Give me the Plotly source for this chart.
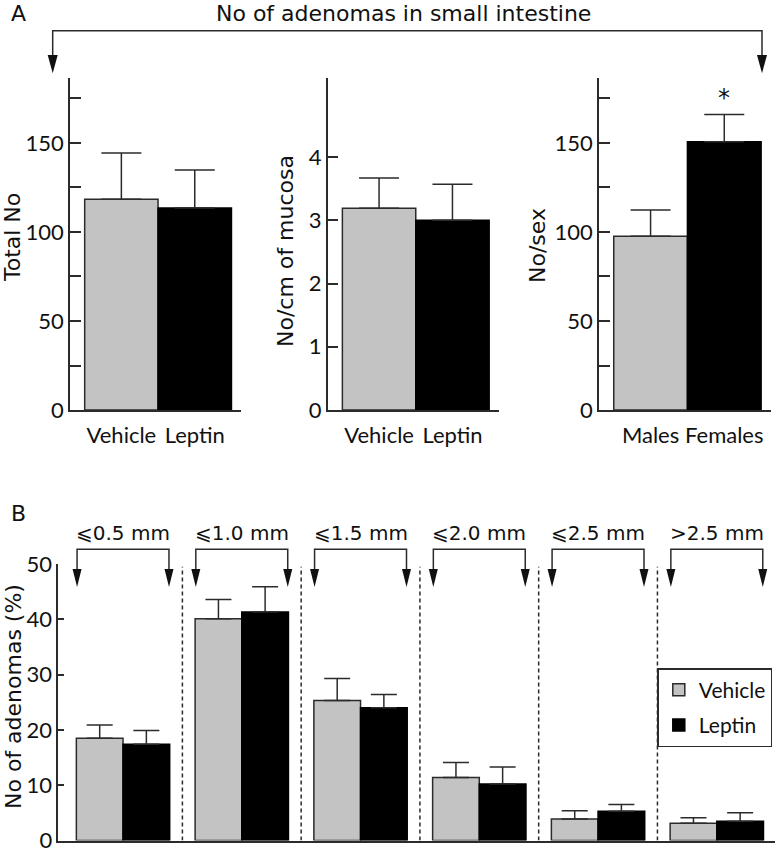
import plotly.graph_objects as go

W, H = 775, 853
FONT = "Lato"
TFONT = "DejaVu Sans"
INK = "#2b2b2b"
GRAY = "#c3c3c3"
BLACK = "#000000"

# ---------------- data ----------------
a_groups = ["Vehicle", "Leptin"]
total_no = [118.4, 113.5]
total_no_sem = [26.0, 21.3]
per_cm = [3.19, 3.00]
per_cm_sem = [0.48, 0.57]

sex_groups = ["Males", "Females"]
per_sex = [97.6, 150.7]
per_sex_sem = [14.8, 15.3]

size_labels = ["⩽0.5 mm", "⩽1.0 mm", "⩽1.5 mm", "⩽2.0 mm", "⩽2.5 mm", ">2.5 mm"]
vehicle_pct = [18.5, 40.1, 25.3, 11.4, 3.9, 3.1]
vehicle_sem = [2.4, 3.5, 4.0, 2.7, 1.5, 1.0]
leptin_pct = [17.4, 41.3, 24.0, 10.2, 5.3, 3.5]
leptin_sem = [2.5, 4.6, 2.4, 3.1, 1.2, 1.5]


def px_x(p):
    return p / W


def px_y(p):
    return 1 - p / H


fig = go.Figure()


def a_bar(y, sem, xa, ya):
    return go.Bar(
        x=[0, 1], y=y, width=1,
        marker=dict(color=[GRAY, BLACK], line=dict(color=[INK, BLACK], width=1.5)),
        error_y=dict(type="data", array=sem, arrayminus=[0] * len(sem), symmetric=False,
                     color=INK, thickness=1.5, width=20),
        xaxis=xa, yaxis=ya, showlegend=False, hoverinfo="skip",
    )


fig.add_trace(a_bar(total_no, total_no_sem, "x", "y"))
fig.add_trace(a_bar(per_cm, per_cm_sem, "x2", "y2"))
fig.add_trace(a_bar(per_sex, per_sex_sem, "x3", "y3"))

xb = list(range(len(size_labels)))
fig.add_trace(go.Bar(
    x=xb, y=vehicle_pct, name="Vehicle", legendgroup="v",
    marker=dict(color=GRAY, line=dict(color=INK, width=1.5)),
    error_y=dict(type="data", array=vehicle_sem, arrayminus=[0] * 6, symmetric=False,
                 color=INK, thickness=1.5, width=13),
    xaxis="x4", yaxis="y4",
))
fig.add_trace(go.Bar(
    x=xb, y=leptin_pct, name="Leptin", legendgroup="l",
    marker=dict(color=BLACK, line=dict(color=BLACK, width=1.5)),
    error_y=dict(type="data", array=leptin_sem, arrayminus=[0] * 6, symmetric=False,
                 color=INK, thickness=1.5, width=13),
    xaxis="x4", yaxis="y4",
))

axis_common = dict(showline=True, linecolor=INK, linewidth=1.5, showgrid=False,
                   zeroline=False, fixedrange=True, ticklabeloverflow="allow",
                   tickfont=dict(family=FONT, size=22, color="#111"))

A_TOP, A_BOT = 78, 410
a_xrange = [-0.7, 1.63]
count_ticks = list(range(0, 176, 25))
count_text = [str(v) if v % 50 == 0 else "" for v in count_ticks]

layout_axes = {}
for i, (x0, x1, labels, yr, tv, tt) in enumerate([
    (70, 241, a_groups, 186.5, count_ticks, count_text),
    (327.7, 498.7, a_groups, 5.25, [0, 1, 2, 3, 4], ["0", "1", "2", "3", "4"]),
    (599, 770.7, sex_groups, 186.5, count_ticks, count_text),
], start=1):
    sfx = "" if i == 1 else str(i)
    layout_axes["xaxis" + sfx] = dict(
        axis_common, domain=[px_x(x0), px_x(x1)], range=a_xrange, anchor="y" + sfx,
        tickvals=[0, 1], ticktext=labels, ticks="", ticklabelstandoff=5)
    layout_axes["yaxis" + sfx] = dict(
        axis_common, domain=[px_y(A_BOT), px_y(A_TOP)], range=[0, yr], anchor="x" + sfx,
        tickvals=tv, ticktext=tt, ticks="inside", ticklen=11, tickwidth=1.5, tickcolor=INK)

B_X0, B_TOP, B_BOT = 58.3, 564, 840.5
b_range = [-0.545, 5.49]
layout_axes["xaxis4"] = dict(axis_common, domain=[px_x(B_X0), 1], range=b_range, anchor="y4",
                             showticklabels=False, ticks="")
layout_axes["yaxis4"] = dict(axis_common, domain=[px_y(B_BOT), px_y(B_TOP)], range=[0, 50],
                             anchor="x4", tickvals=list(range(0, 51, 10)), ticks="inside",
                             ticklen=6, tickwidth=1.5, tickcolor=INK)

shapes = []
line_style = dict(color=INK, width=1.5)


def arrow_path(x, half, y_base, y_tip):
    return f"M {x - half},{y_base} L {x + half},{y_base} L {x},{y_tip} Z"


# Top bracket of panel A
xl, xr = px_x(52.7), px_x(762)
yl, yb, yt = px_y(30.7), px_y(55), px_y(73.3)
shapes.append(dict(type="path", xref="paper", yref="paper",
                   path=f"M {xl},{yb} L {xl},{yl} L {xr},{yl} L {xr},{yb}", line=line_style))
for xx in (xl, xr):
    shapes.append(dict(type="path", xref="paper", yref="paper",
                       path=arrow_path(xx, 5 / W, yb, yt), fillcolor="#111", line=dict(width=0)))

# Panel B brackets and dashed separators
b_unit = (W - B_X0) / (b_range[1] - b_range[0])
yl, yb, yt = px_y(549.3), px_y(569), px_y(587)
for i in xb:
    l, r = i - 0.387, i + 0.387
    shapes.append(dict(type="path", xref="x4", yref="paper",
                       path=f"M {l},{yb} L {l},{yl} L {r},{yl} L {r},{yb}", line=line_style))
    for xx in (l, r):
        shapes.append(dict(type="path", xref="x4", yref="paper",
                           path=arrow_path(xx, 4.5 / b_unit, yb, yt), fillcolor="#111",
                           line=dict(width=0)))
for i in xb[:-1]:
    shapes.append(dict(type="line", xref="x4", yref="y4", x0=i + 0.5, x1=i + 0.5, y0=0, y1=49.5,
                       line=dict(color=INK, width=1.5, dash="4px,3px")))

ann_font = dict(family=TFONT, size=22, color="#111")


def paper_text(text, x, y, angle=0, **kw):
    return dict(text=text, x=px_x(x), y=px_y(y), xref="paper", yref="paper",
                xanchor="center", yanchor="middle", textangle=angle, showarrow=False,
                font=ann_font, **kw)


annotations = [
    paper_text("A", 18, 14),
    paper_text("No of adenomas in small intestine", 403, 13),
    paper_text("B", 18, 513),
    paper_text("Total No", 13, 238, -90),
    paper_text("No/cm of mucosa", 285, 251, -90),
    paper_text("No/sex", 538, 246, -90),
    paper_text("No of adenomas (%)", 13, 697, -90),
    dict(text="*", x=1, y=per_sex[1] + per_sex_sem[1], xref="x3", yref="y3",
         xanchor="center", yanchor="bottom", showarrow=False,
         font=dict(family=TFONT, size=24, color="#111")),
]
for i, lab in enumerate(size_labels):
    annotations.append(dict(text=lab, x=i, y=px_y(533), xref="x4", yref="paper",
                            xanchor="center", yanchor="middle", showarrow=False,
                            font=dict(family=TFONT, size=20, color="#111")))

fig.update_layout(
    width=W, height=H, margin=dict(l=0, r=0, t=0, b=0, autoexpand=False),
    paper_bgcolor="white", plot_bgcolor="white",
    font=dict(family=FONT, size=22, color="#111"),
    barmode="group", bargap=0.214, bargroupgap=0,
    showlegend=True,
    legend=dict(x=px_x(772.3), y=px_y(668), xanchor="right", yanchor="top",
                bgcolor="white", bordercolor=INK, borderwidth=1.5,
                font=dict(family=FONT, size=21, color="#111"), tracegroupgap=5,
                itemclick=False, itemdoubleclick=False),
    shapes=shapes, annotations=annotations,
    **layout_axes,
)

# remove the browser's default 8px body margin so the figure sits at the page origin
fig.write_html("out.html", config={"displayModeBar": False},
               post_script="document.body.style.margin='0';")
